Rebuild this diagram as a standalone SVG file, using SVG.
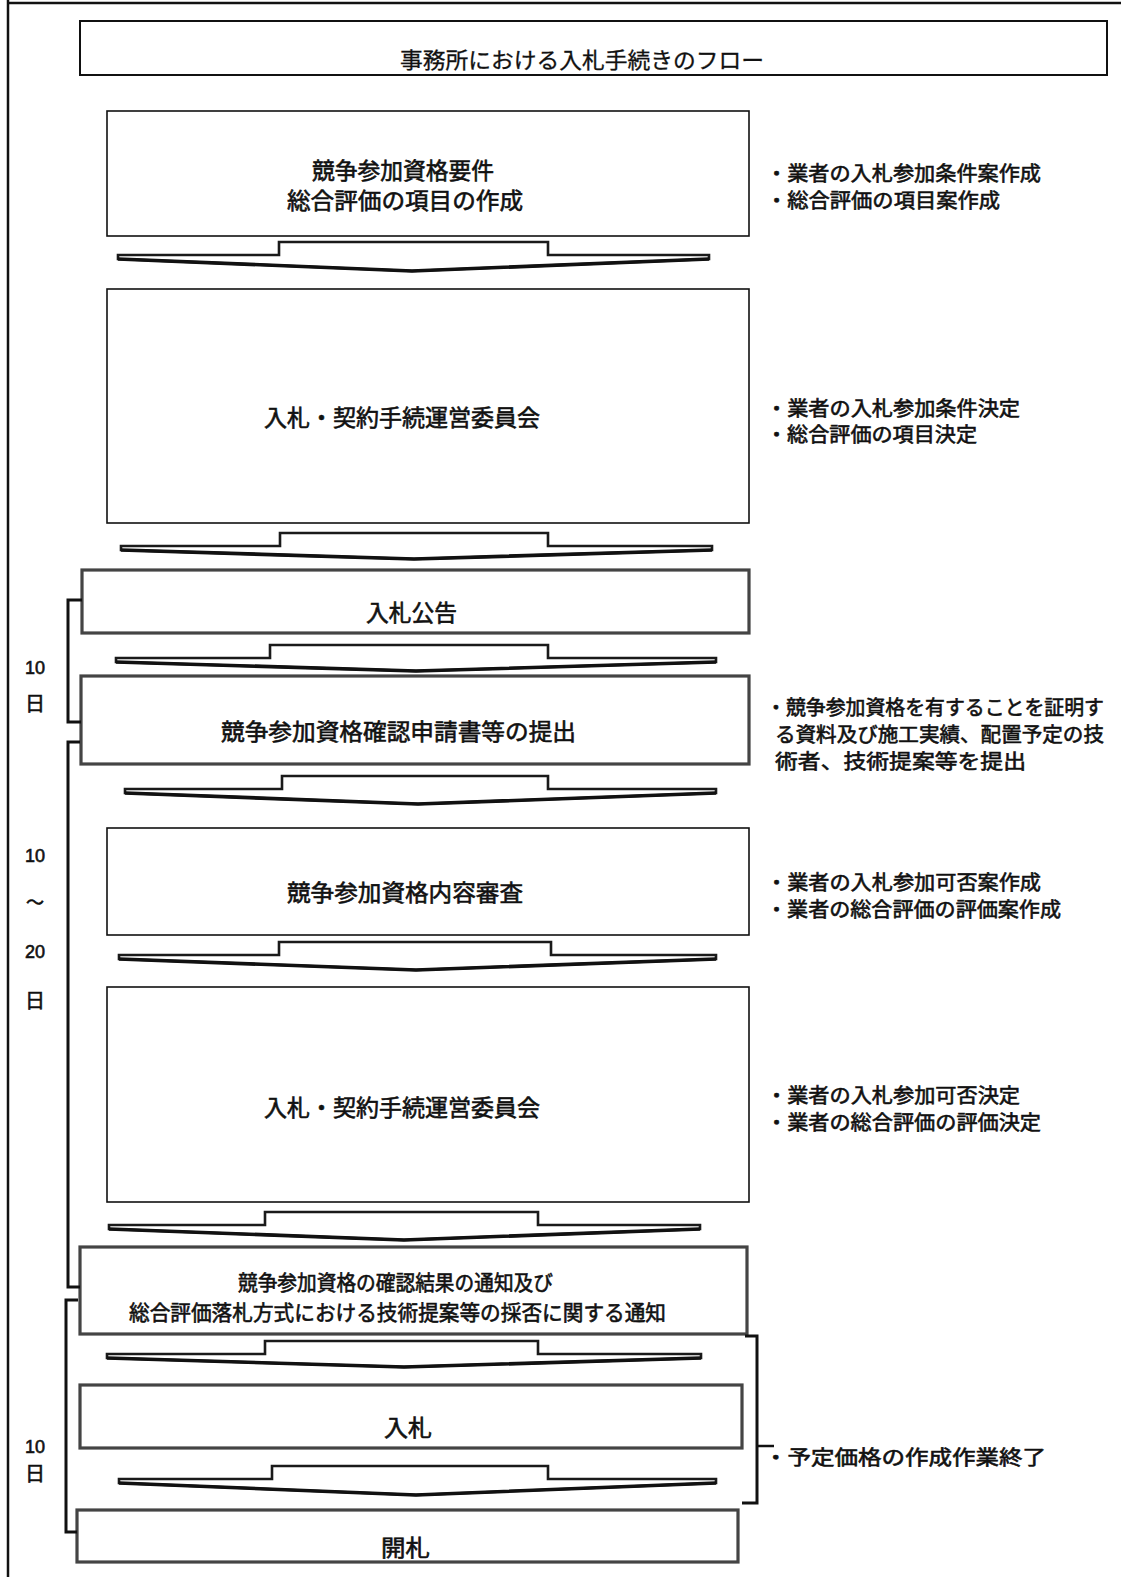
<svg xmlns="http://www.w3.org/2000/svg" width="1121" height="1577" viewBox="0 0 1121 1577">
<style>
.bg{fill:#fff}
.frame{stroke:#111;stroke-width:2.5;fill:none}
.thin{fill:#fff;stroke:#111;stroke-width:1.6}
.thick{fill:#fff;stroke:#444;stroke-width:3.2}
.arrow{fill:#fff;stroke:#1a1a1a;stroke-width:2.6;stroke-linejoin:miter}
.vb{fill:none;stroke:#111;stroke-width:3.6;stroke-linejoin:round}
.br{fill:none;stroke:#111;stroke-width:3}
.t{font-family:"Liberation Sans","Noto Sans CJK JP",sans-serif;fill:#111;stroke:#111;stroke-width:0.6}
.bx{font-size:23px}
.nt{font-size:20px}
.lb{font-size:18px;text-anchor:middle}
</style>
<rect class="bg" x="0" y="0" width="1121" height="1577"/>
<line class="frame" x1="8" y1="0" x2="8" y2="1577"/>
<line class="frame" x1="8" y1="3" x2="1121" y2="3"/>

<g id="title">
<rect x="80" y="21" width="1027" height="54" fill="#fff" stroke="#111" stroke-width="2"/>
<text class="t bx" x="400" y="68" style="font-size:22px;stroke-width:0.3" textLength="364" lengthAdjust="spacingAndGlyphs">事務所における入札手続きのフロー</text>
</g>

<g id="n1">
<rect class="thin" x="107" y="111" width="642" height="125"/>
<text class="t bx" x="312" y="179" textLength="182" lengthAdjust="spacingAndGlyphs">競争参加資格要件</text>
<text class="t bx" x="287" y="209" textLength="236" lengthAdjust="spacingAndGlyphs">総合評価の項目の作成</text>
</g>
<g id="n2">
<rect class="thin" x="107" y="289" width="642" height="234"/>
<text class="t bx" x="264" y="426" textLength="276" lengthAdjust="spacingAndGlyphs">入札・契約手続運営委員会</text>
</g>
<g id="n3">
<rect class="thick" x="82" y="570" width="667" height="63"/>
<text class="t bx" x="366" y="621" textLength="91" lengthAdjust="spacingAndGlyphs">入札公告</text>
</g>
<g id="n4">
<rect class="thick" x="81" y="676" width="668" height="88"/>
<text class="t bx" x="221" y="740" textLength="355" lengthAdjust="spacingAndGlyphs">競争参加資格確認申請書等の提出</text>
</g>
<g id="n5">
<rect class="thin" x="107" y="828" width="642" height="107"/>
<text class="t bx" x="287" y="901" textLength="236" lengthAdjust="spacingAndGlyphs">競争参加資格内容審査</text>
</g>
<g id="n6">
<rect class="thin" x="107" y="987" width="642" height="215"/>
<text class="t bx" x="264" y="1116" textLength="276" lengthAdjust="spacingAndGlyphs">入札・契約手続運営委員会</text>
</g>
<g id="n7">
<rect class="thick" x="80" y="1247" width="667" height="87"/>
<text class="t bx" x="238" y="1290" style="font-size:21px" textLength="315" lengthAdjust="spacingAndGlyphs">競争参加資格の確認結果の通知及び</text>
<text class="t bx" x="129" y="1320" style="font-size:21px" textLength="537" lengthAdjust="spacingAndGlyphs">総合評価落札方式における技術提案等の採否に関する通知</text>
</g>
<g id="n8">
<rect class="thick" x="80" y="1385" width="662" height="63"/>
<text class="t bx" x="384" y="1436" textLength="48" lengthAdjust="spacingAndGlyphs">入札</text>
</g>
<g id="n9">
<rect class="thick" x="77" y="1510" width="661" height="52"/>
<text class="t bx" x="381" y="1556" textLength="49" lengthAdjust="spacingAndGlyphs">開札</text>
</g>

<g id="connectors">
<path class="arrow" d="M118,255 H279 V242 H548 V255 H709 V259 L412,271 L118,259 Z"/>
<path class="vb" d="M118,259 L412,271 L709,259"/>
<path class="arrow" d="M121,546 H280 V533 H548 V546 H712 V550 L414,559 L121,550 Z"/>
<path class="vb" d="M121,550 L414,559 L712,550"/>
<path class="arrow" d="M116,658 H270 V645 H548 V658 H716 V662 L416,671 L116,662 Z"/>
<path class="vb" d="M116,662 L416,671 L716,662"/>
<path class="arrow" d="M125,789 H282 V776 H548 V789 H716 V793 L418,804 L125,793 Z"/>
<path class="vb" d="M125,793 L418,804 L716,793"/>
<path class="arrow" d="M119,955 H279 V942 H551 V955 H716 V959 L416,970 L119,959 Z"/>
<path class="vb" d="M119,959 L416,970 L716,959"/>
<path class="arrow" d="M109,1225 H265 V1212 H538 V1225 H700 V1229 L404,1240 L109,1229 Z"/>
<path class="vb" d="M109,1229 L404,1240 L700,1229"/>
<path class="arrow" d="M107,1354 H265 V1341 H538 V1354 H701 V1358 L404,1367 L107,1358 Z"/>
<path class="vb" d="M107,1358 L404,1367 L701,1358"/>
<path class="arrow" d="M119,1479 H272 V1466 H548 V1479 H716 V1483 L416,1495 L119,1483 Z"/>
<path class="vb" d="M119,1483 L416,1495 L716,1483"/>

<path class="br" d="M82,600 H68 V722 H81"/>
<path class="br" d="M80,742 H68 V1287 H80"/>
<path class="br" d="M78,1300 H66 V1532 H77"/>
<path class="br" d="M745,1336 H757 V1503 H742"/>
<path d="M757,1446 H774" stroke="#111" stroke-width="2.5" fill="none"/>
</g>

<g id="labels">
<text class="t lb" x="35" y="674">10</text>
<text class="t lb" x="35" y="711" style="font-size:20px">日</text>
<text class="t lb" x="35" y="862">10</text>
<text class="t lb" x="35" y="909">～</text>
<text class="t lb" x="35" y="958">20</text>
<text class="t lb" x="35" y="1008" style="font-size:20px">日</text>
<text class="t lb" x="35" y="1453">10</text>
<text class="t lb" x="35" y="1481" style="font-size:20px">日</text>

<text class="t nt" x="766" y="181" textLength="275" lengthAdjust="spacingAndGlyphs">・業者の入札参加条件案作成</text>
<text class="t nt" x="766" y="208" textLength="234" lengthAdjust="spacingAndGlyphs">・総合評価の項目案作成</text>
<text class="t nt" x="766" y="416" textLength="254" lengthAdjust="spacingAndGlyphs">・業者の入札参加条件決定</text>
<text class="t nt" x="766" y="442" textLength="211" lengthAdjust="spacingAndGlyphs">・総合評価の項目決定</text>
<text class="t nt" x="766" y="715" textLength="338" lengthAdjust="spacingAndGlyphs">・競争参加資格を有することを証明す</text>
<text class="t nt" x="775" y="742" textLength="329" lengthAdjust="spacingAndGlyphs">る資料及び施工実績、配置予定の技</text>
<text class="t nt" x="775" y="769" textLength="251" lengthAdjust="spacingAndGlyphs">術者、技術提案等を提出</text>
<text class="t nt" x="766" y="890" textLength="275" lengthAdjust="spacingAndGlyphs">・業者の入札参加可否案作成</text>
<text class="t nt" x="766" y="917" textLength="295" lengthAdjust="spacingAndGlyphs">・業者の総合評価の評価案作成</text>
<text class="t nt" x="766" y="1103" textLength="254" lengthAdjust="spacingAndGlyphs">・業者の入札参加可否決定</text>
<text class="t nt" x="766" y="1130" textLength="275" lengthAdjust="spacingAndGlyphs">・業者の総合評価の評価決定</text>
<text class="t nt" x="764" y="1465" textLength="282" lengthAdjust="spacingAndGlyphs">・予定価格の作成作業終了</text>
</g>
</svg>
